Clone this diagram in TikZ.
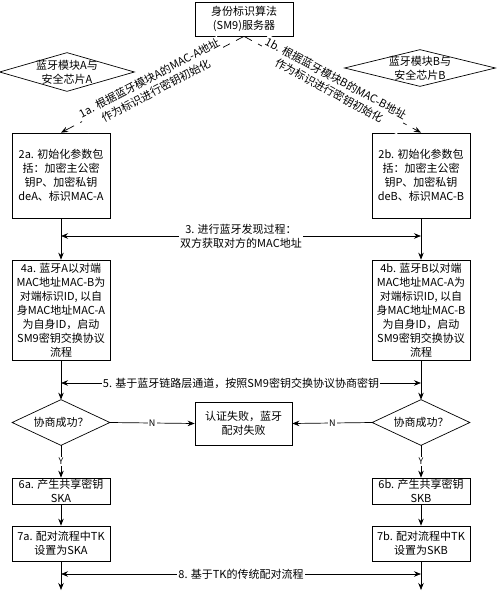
\documentclass[tikz,border=0pt]{standalone}
\usepackage{fontspec}
\setmainfont{Noto Sans CJK SC}
\usepackage{tikz}
\usetikzlibrary{calc, positioning}
\usetikzlibrary{arrows.meta}
\tikzset{>={Stealth[length=7pt,width=5.5pt]}}
\tikzset{
	box/.style={draw, align=center, inner sep=1pt, minimum width=98pt, font=\fontsize{11}{14}\selectfont},
	rhomb/.style={align=center, inner sep=0pt, font=\fontsize{11}{14}\selectfont},
	lbl/.style={fill=white, align=center, inner sep=1pt, font=\fontsize{11}{14}\selectfont},
	yn/.style={fill=white, inner sep=1pt, font=\fontsize{9}{10}\selectfont},
	dashedarrow/.style={->, dash pattern=on 9pt off 7pt}
}

\begin{document}
\begin{tikzpicture}[x=1pt, y=-1pt, line width=0.7pt]
				\useasboundingbox (0,0) rectangle (496,591);
				% server and the two modules
				\node[box, minimum height=34pt] (sm9) at (244,19) {身份标识算法\\(SM9)服务器};
				\node[rhomb, minimum width=134pt, minimum height=38pt] (modA) at (67,72) {蓝牙模块A与\\安全芯片A};
				\node[rhomb, minimum width=150pt, minimum height=36pt] (modB) at (420,68) {蓝牙模块B与\\安全芯片B};
				% left column
				\node[box, minimum height=85pt] (initA) at (61,175.5) {2a. 初始化参数包\\括：加密主公密\\钥P、加密私钥\\deA、标识MAC-A};
				\node[box, minimum height=100pt] (startA) at (61,310) {4a. 蓝牙A以对端\\MAC地址MAC-B为\\对端标识ID, 以自\\身MAC地址MAC-A\\为自身ID，启动\\SM9密钥交换协议\\流程};
				\node[rhomb, minimum width=97pt, minimum height=45pt] (okA) at (61,422.5) {协商成功？};
				\node[box, minimum height=26pt] (keyA) at (61,491) {6a. 产生共享密钥\\SKA};
				\node[box, minimum height=35pt] (tkA) at (61,543.5) {7a. 配对流程中TK\\设置为SKA};
				% right column
				\node[box, minimum height=85pt] (initB) at (421,175.5) {2b. 初始化参数包\\括：加密主公密\\钥P、加密私钥\\deB、标识MAC-B};
				\node[box, minimum height=100pt] (startB) at (421,310) {4b. 蓝牙B以对端\\MAC地址MAC-A为\\对端标识ID, 以自\\身MAC地址MAC-B\\为自身ID，启动\\SM9密钥交换协议\\流程};
				\node[rhomb, minimum width=97pt, minimum height=45pt] (okB) at (421,422.5) {协商成功？};
				\node[box, minimum height=26pt] (keyB) at (421,491) {6b. 产生共享密钥\\SKB};
				\node[box, minimum height=35pt] (tkB) at (421,543.5) {7b. 配对流程中TK\\设置为SKB};
				% failure
				\node[box, minimum width=97pt, minimum height=43pt] (fail) at (243.5,423.5) {认证失败，蓝牙\\配对失败};
				\foreach \n in {modA, modB, okA, okB}
					\draw (\n.west) -- (\n.north) -- (\n.east) -- (\n.south) -- cycle;
				\coordinate (y3) at (0,236);
				\coordinate (y5) at (0,383);
				\coordinate (y8) at (0,574);
				\coordinate (endA) at (61,590);
				\coordinate (endB) at (421,590);
				% key initialisation
				\draw[dashedarrow] (sm9.south) -- node[lbl, sloped] (initlblA) {1a. 根据蓝牙模块A的MAC-A地址\\作为标识进行密钥初始化} (initA.north);
				\draw[dashedarrow] (sm9.south) -- node[lbl, sloped] (initlblB) {1b. 根据蓝牙模块B的MAC-B地址\\作为标识进行密钥初始化} (initB.north);
				% vertical flow
				\draw[->] (initA.south) -- (startA.north);
				\draw[->] (startA.south) -- (okA.north);
				\draw[->] (okA.south) -- node[yn] {Y} (keyA.north);
				\draw[->] (keyA.south) -- (tkA.north);
				\draw[->] (tkA.south) -- (endA);
				\draw[->] (initB.south) -- (startB.north);
				\draw[->] (startB.south) -- (okB.north);
				\draw[->] (okB.south) -- node[yn] {Y} (keyB.north);
				\draw[->] (keyB.south) -- (tkB.north);
				\draw[->] (tkB.south) -- (endB);
				\draw[->] (okA.east) -- node[yn] {N} (fail.west);
				\draw[->] (okB.west) -- node[yn] {N} (fail.east);
				% exchanges between the two sides
				\draw[<->] (initA.south |- y3) -- node[lbl] (discover) {3. 进行蓝牙发现过程：\\双方获取对方的MAC地址} (initB.south |- y3);
				\draw[<->] (startA.south |- y5) -- node[lbl] (negotiate) {5. 基于蓝牙链路层通道，按照SM9密钥交换协议协商密钥} (startB.south |- y5);
				\draw[<->] (tkA.south |- y8) -- node[lbl] (pairing) {8. 基于TK的传统配对流程} (tkB.south |- y8);
			\end{tikzpicture}
\end{document}
